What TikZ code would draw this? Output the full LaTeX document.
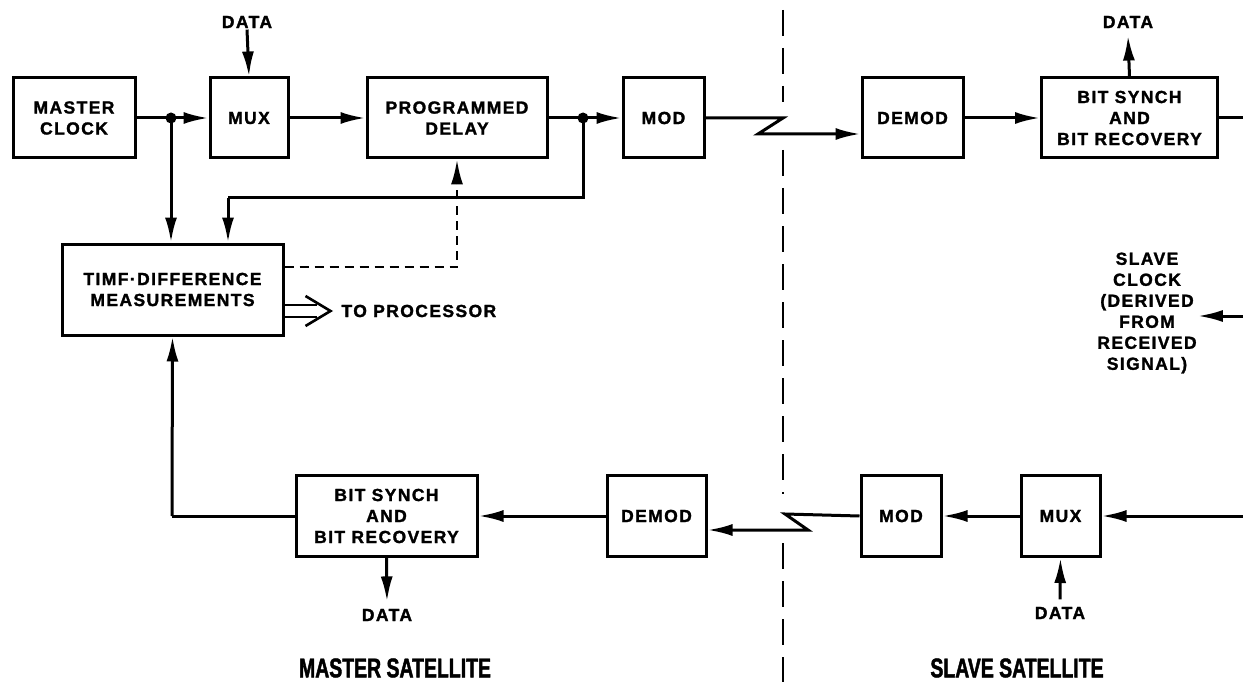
\documentclass[tikz,border=0pt]{standalone}
\usepackage{fontspec}
\usepackage{graphicx}
\usetikzlibrary{arrows.meta}
\newfontfamily\labfont{Liberation Sans}[LetterSpace=8,FakeBold=1.5]
\newfontfamily\ttlfont{Liberation Sans}[FakeStretch=0.72,FakeBold=1.6]
\begin{document}
\begin{tikzpicture}[x=1pt,y=-1pt,
  box/.style={draw,line width=3pt,align=center,inner sep=0pt},
  lab/.style={font=\labfont\bfseries\fontsize{17.5}{21}\selectfont,align=center},
  ttl/.style={font=\ttlfont\bfseries\fontsize{27}{30}\selectfont,inner sep=0pt},
  con/.style={line width=3pt},
  arr/.style={line width=3pt,-{Latex[length=25pt,width=12pt]}},
  dot/.style={circle,fill,inner sep=0pt,minimum size=11pt},
  divline/.style={line width=2.6pt,dash pattern=on 26pt off 12pt}]
\useasboundingbox (0,0) rectangle (1243,682);
% top row boxes
\node[box,lab,minimum width=122pt,minimum height=80pt] (mclk) at (74,118) {MASTER\\CLOCK};
\node[box,lab,minimum width=78pt,minimum height=80pt] (mux) at (249,118) {MUX};
\node[box,lab,minimum width=180pt,minimum height=80pt] (pdel) at (457,118) {PROGRAMMED\\DELAY};
\node[box,lab,minimum width=81pt,minimum height=80pt] (mod) at (663.5,118) {MOD};
\node[box,lab,minimum width=101pt,minimum height=80pt] (demod) at (912.5,118) {DEMOD};
\node[box,lab,minimum width=176pt,minimum height=80pt] (bsync) at (1129.5,118) {BIT SYNCH\\AND\\BIT RECOVERY};
\node[box,lab,minimum width=221pt,minimum height=91pt] (tdm) at (172.5,289.5) {TIMF·DIFFERENCE\\MEASUREMENTS};
% bottom row boxes
\node[box,lab,minimum width=181pt,minimum height=81pt] (bsync2) at (386.5,516) {BIT SYNCH\\AND\\BIT RECOVERY};
\node[box,lab,minimum width=99pt,minimum height=81pt] (demod2) at (656.5,516) {DEMOD};
\node[box,lab,minimum width=80pt,minimum height=81pt] (mod2) at (901,516) {MOD};
\node[box,lab,minimum width=79pt,minimum height=81pt] (mux2) at (1060.5,516) {MUX};
% labels
\node[lab] (data1) at (247,22) {DATA};
\node[lab] (data2) at (1128,22) {DATA};
\node[lab] (data3) at (387,615) {DATA};
\node[lab] (data4) at (1060,613) {DATA};
\node[lab,anchor=west] (toproc) at (338,311) {TO PROCESSOR};
\node[lab,inner sep=1pt] (sclk) at (1147,313) {SLAVE\\CLOCK\\(DERIVED\\FROM\\RECEIVED\\SIGNAL)};
\node[ttl] (mtitle) at (395,668) {MASTER SATELLITE};
\node[ttl] (stitle) at (1017,668) {SLAVE SATELLITE};
% coordinates
\coordinate (j1) at (171,118);
\coordinate (j2) at (583,118);
\coordinate (fb1) at (583,198);
\coordinate (fb2) at (228,198);
\coordinate (d1) at (457,267);
\coordinate (z1) at (783,118);
\coordinate (z2) at (758,134);
\coordinate (z3) at (785,514);
\coordinate (z4) at (808,530);
\coordinate (e1) at (1243,118);
\coordinate (e2) at (1243,516);
\coordinate (e3) at (1243,316);
\coordinate (c1) at (172,516);
\coordinate (v1) at (783,10);
\coordinate (v2) at (783,102);
\coordinate (v3) at (783,150);
\coordinate (v4) at (783,494);
\coordinate (v5) at (783,543);
\coordinate (v6) at (783,682);
% top row connectors
\draw[arr] (mclk.east) -- (mux.west);
\draw[arr] (mux.east) -- (pdel.west);
\draw[arr] (pdel.east) -- (mod.west);
\node[dot] at (j1) {};
\node[dot] at (j2) {};
\draw[arr] (j1) -- (j1 |- tdm.north);
\draw[con] (j2) -- (fb1) -- (fb2);
\draw[arr] (fb2) -- (fb2 |- tdm.north);
\draw[line width=2.6pt,dash pattern=on 9pt off 6pt,-{Latex[length=25pt,width=12pt]}] (tdm.east |- d1) -- (d1) -- (d1 |- pdel.south);
\draw[arr,line join=miter] (mod.east) -- (z1) -- (z2) -- (z2 -| demod.west);
\draw[arr] (demod.east) -- (bsync.west);
\draw[con] (bsync.east) -- (e1);
\draw[arr] ([yshift=2pt]data1.south) -- (mux.north);
\draw[arr] (bsync.north) -- ([yshift=-4pt]data2.south);
% to processor double arrow
\draw[line width=2.6pt] (tdm.east |- 0,305) -- ++(32,0);
\draw[line width=2.6pt] (tdm.east |- 0,317) -- ++(32,0);
\draw[line width=2.6pt,line join=miter] ([xshift=21pt]tdm.east |- 0,296) -- ([xshift=46pt]tdm.east |- 0,311) -- ([xshift=21pt]tdm.east |- 0,326);
% bottom row connectors
\draw[con] (bsync2.west) -- (c1);
\draw[arr] (c1) -- (tdm.south);
\draw[arr] (demod2.west) -- (bsync2.east);
\draw[arr] (bsync2.south) -- ([yshift=4pt]data3.north);
\draw[arr,line join=miter] (mod2.west) -- (z3) -- (z4) -- (z4 -| demod2.east);
\draw[arr] (mux2.west) -- (mod2.east);
\draw[arr] (e2) -- (mux2.east);
\draw[arr] ([yshift=4pt]data4.north) -- (mux2.south);
\draw[arr] (e3) -- (sclk.east |- e3);
% divider
\draw[divline] (v1) -- (v2);
\draw[divline] (v3) -- (v4);
\draw[divline] (v5) -- (v6);
\end{tikzpicture}
\end{document}
